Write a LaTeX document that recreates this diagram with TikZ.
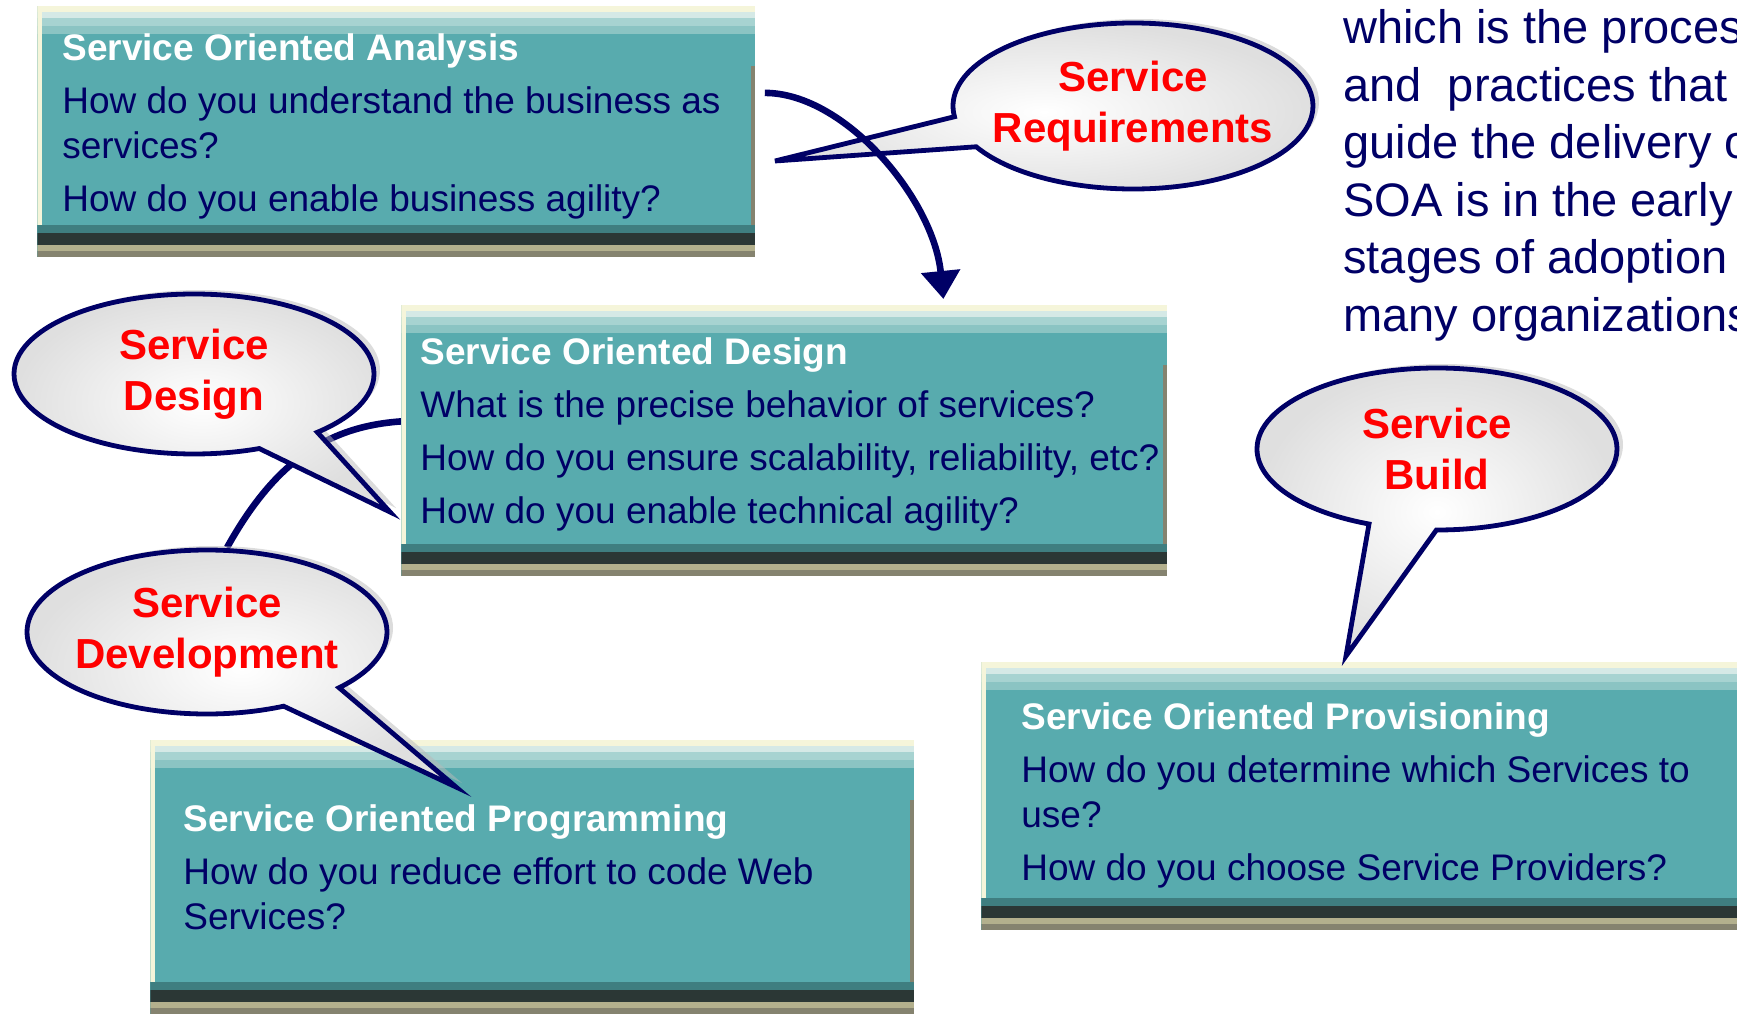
\documentclass[tikz,border=0pt]{standalone}
\usepackage{fontspec}
\setmainfont{Liberation Sans}
\usetikzlibrary{positioning,shapes.callouts,shadows,arrows.meta,backgrounds}

\definecolor{soateal}{RGB}{88,171,174}
\definecolor{soacream}{RGB}{245,245,218}
\definecolor{soaband1}{RGB}{213,233,230}
\definecolor{soaband2}{RGB}{167,211,209}
\definecolor{soaband3}{RGB}{139,196,195}
\definecolor{soadeep}{RGB}{63,126,128}
\definecolor{soadark}{RGB}{43,55,53}
\definecolor{soakhaki}{RGB}{179,176,141}
\definecolor{soagrey}{RGB}{133,131,111}
\definecolor{soanavy}{RGB}{0,0,102}
\definecolor{soared}{RGB}{255,0,0}

\tikzset{
  soabox/.style={rectangle, fill=soateal, inner sep=0pt, anchor=north west,
    path picture={
      \def\ppb{path picture bounding box}
      % bands on top
      \fill[soacream] (\ppb.north west) rectangle ([yshift=-3pt]\ppb.north east);
      \fill[soaband1] ([yshift=-3pt]\ppb.north west) rectangle ([yshift=-6pt]\ppb.north east);
      \fill[soaband2] ([yshift=-6pt]\ppb.north west) rectangle ([yshift=-10pt]\ppb.north east);
      \fill[soaband3] ([yshift=-10pt]\ppb.north west) rectangle ([yshift=-14pt]\ppb.north east);
      % bands at the bottom
      \fill[soadeep] ([yshift=16pt]\ppb.south west) rectangle ([yshift=12pt]\ppb.south east);
      \fill[soadark] ([yshift=12pt]\ppb.south west) rectangle ([yshift=6pt]\ppb.south east);
      \fill[soakhaki] ([yshift=6pt]\ppb.south west) rectangle ([yshift=3pt]\ppb.south east);
      \fill[soagrey] (\ppb.south west) rectangle ([yshift=3pt]\ppb.south east);
      % edges
      \fill[soacream] (\ppb.north west) rectangle ([xshift=2.5pt,yshift=16pt]\ppb.south west);
      \fill[soagrey] ([xshift=-2pt,yshift=-30pt]\ppb.north east) rectangle ([yshift=16pt]\ppb.south east);
    }},
  qtext/.style={anchor=north west, align=left, inner sep=0pt, text=soanavy,
    font=\fontsize{18.5}{22.5}\selectfont},
  sidetext/.style={anchor=north west, align=left, inner sep=0pt, text=soanavy,
    font=\fontsize{23.5}{28.8}\selectfont},
  balloon/.style={ellipse callout, draw=soanavy, line width=2.4pt,
    inner color=white, outer color=gray!25, minimum width=180pt,
    inner xsep=-25pt, inner ysep=0pt, callout pointer arc=22,
    align=center, text=soared, font=\bfseries\fontsize{21}{25.5}\selectfont,
    drop shadow={shadow xshift=3pt, shadow yshift=2pt, fill=gray!55}},
  flowline/.style={draw=soanavy, line width=3.3pt},
}
\newcommand{\soatitle}[1]{{\color{white}\bfseries #1}}

\begin{document}
\begin{tikzpicture}[x=0.5pt, y=-0.5pt]
\useasboundingbox (0,0) rectangle (1737,1017);
\clip (0,0) rectangle (1737,1017);

% the four boxes
\node[soabox, minimum width=359pt, minimum height=125.5pt] (analysis) at (37,6) {};
\node[soabox, minimum width=383pt, minimum height=135.5pt] (design) at (401,305) {};
\node[soabox, minimum width=382pt, minimum height=137pt] (programming) at (150,740) {};
\node[soabox, minimum width=400pt, minimum height=134pt] (provisioning) at (981,662) {};

\node[qtext] (analysisText) at (62,33) {\soatitle{Service Oriented Analysis}\\[4pt]
  How do you understand the business as\\ services?\\[4pt]
  How do you enable business agility?};
\node[qtext] (designText) at (420,337) {\soatitle{Service Oriented Design}\\[4pt]
  What is the precise behavior of services?\\[4pt]
  How do you ensure scalability, reliability, etc?\\[4pt]
  How do you enable technical agility?};
\node[qtext] (programmingText) at (183,804) {\soatitle{Service Oriented Programming}\\[4pt]
  How do you reduce effort to code Web\\ Services?};
\node[qtext] (provisioningText) at (1021,702) {\soatitle{Service Oriented Provisioning}\\[4pt]
  How do you determine which Services to\\ use?\\[4pt]
  How do you choose Service Providers?};

% text on the right, cut by the page edge
\node[sidetext] (sideText) at (1343,9) {which is the process\\
  and\ \ practices that\\ guide the delivery of\\ SOA is in the early\\
  stages of adoption\\ many organizations};

% balloons
\node[balloon, minimum height=83pt, callout absolute pointer={(775,161)}] (requirements) at (1133,106) {Service\\Requirements};
\node[balloon, minimum height=80pt, callout absolute pointer={(390,512)}] (designBalloon) at (194,374) {Service\\Design};
\node[balloon, minimum height=82pt, callout absolute pointer={(456,787)}] (development) at (207,632) {Service\\Development};
\node[balloon, minimum height=81pt, callout absolute pointer={(1346,656)}] (build) at (1437,449) {Service\\Build};

% connector behind the balloons
\begin{scope}[on background layer]
\draw[flowline] ([shift={(0,-19.5)}]design.west) .. controls +(-70,5) and +(50,-90) .. ([xshift=10pt]development.north);
\end{scope}

% arrow from analysis down to design
\draw[flowline, -{Triangle[width=19pt,length=14pt]}] ([shift={(9,-39)}]analysis.east) .. controls +(80,0) and +(-10,-100) .. ([shift={(159,-6)}]design.north);
\end{tikzpicture}
\end{document}
